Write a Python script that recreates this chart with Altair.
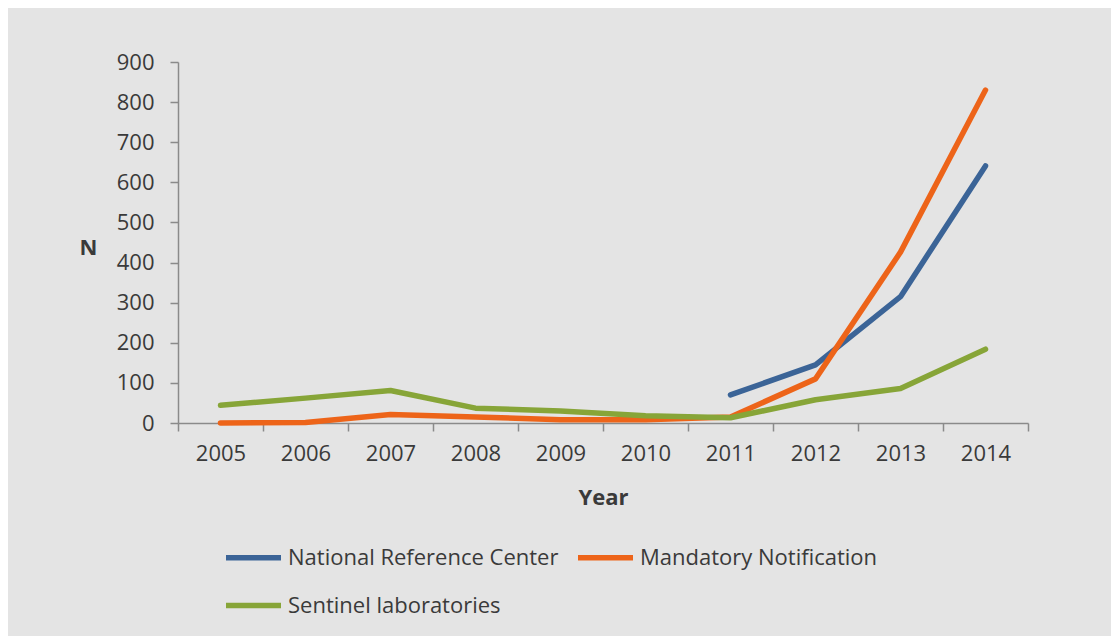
import altair as alt
import pandas as pd

years = ["2005", "2006", "2007", "2008", "2009", "2010", "2011", "2012", "2013", "2014"]
nrc_years = ["2011", "2012", "2013", "2014"]
nrc = [70, 145, 315, 641]
mandatory = [0, 1, 21, 15, 8, 8, 15, 110, 426, 830]
sentinel = [44, 62, 81, 37, 30, 18, 13, 58, 86, 184]

series_names = ["National Reference Center", "Mandatory Notification", "Sentinel laboratories"]
series_colors = ["#3b6497", "#ed6419", "#87a538"]

rows = []
for y, v in zip(nrc_years, nrc):
    rows.append({"Year": y, "N": v, "Series": series_names[0]})
for y, v in zip(years, mandatory):
    rows.append({"Year": y, "N": v, "Series": series_names[1]})
for y, v in zip(years, sentinel):
    rows.append({"Year": y, "N": v, "Series": series_names[2]})
df = pd.DataFrame(rows)

font = "Open Sans"
axis_color = "#8a8a8a"
label_color = "#3a3a3a"

chart = alt.Chart(df).mark_line(strokeWidth=5.5, strokeCap="round", strokeJoin="round").encode(
    x=alt.X("Year:O", sort=years,
            scale=alt.Scale(type="band", paddingInner=0, paddingOuter=0),
            axis=alt.Axis(title="Year", labelAngle=0, tickBand="extent", tickSize=8,
                          labelPadding=12, titleY=74, titleBaseline="middle",
                          titleFontSize=22, titleFontWeight="bold")),
    y=alt.Y("N:Q", scale=alt.Scale(domain=[0, 900], nice=False),
            axis=alt.Axis(title="N", values=list(range(0, 901, 100)), grid=False,
                          tickSize=8, labelPadding=16, titleAngle=0,
                          titleX=-90, titleY=185, titleAlign="center",
                          titleBaseline="middle", titleFontSize=22,
                          titleFontWeight="bold")),
    color=alt.Color("Series:N",
                    scale=alt.Scale(domain=series_names, range=series_colors),
                    legend=alt.Legend(title=None, orient="none", legendX=45, legendY=465,
                                      direction="horizontal",
                                      columns=2, symbolType="stroke", symbolSize=3025,
                                      symbolStrokeWidth=5.5, labelFontSize=22,
                                      labelFont=font, labelColor=label_color,
                                      labelOffset=4, rowPadding=6, columnPadding=8,
                                      labelLimit=400)),
).properties(
    width=850, height=361,
    autosize=alt.AutoSizeParams(type="none"),
    padding={"left": 170, "top": 54, "right": 83, "bottom": 213},
    background="#e4e4e4",
).configure_view(stroke=None).configure_axis(
    domainColor=axis_color, domainWidth=1.5, tickColor=axis_color, tickWidth=1.5,
    labelFont=font, labelFontSize=22, labelColor=label_color,
    titleFont=font, titleColor=label_color,
)

chart.save("out.html", embed_options={"renderer": "svg", "actions": False})
